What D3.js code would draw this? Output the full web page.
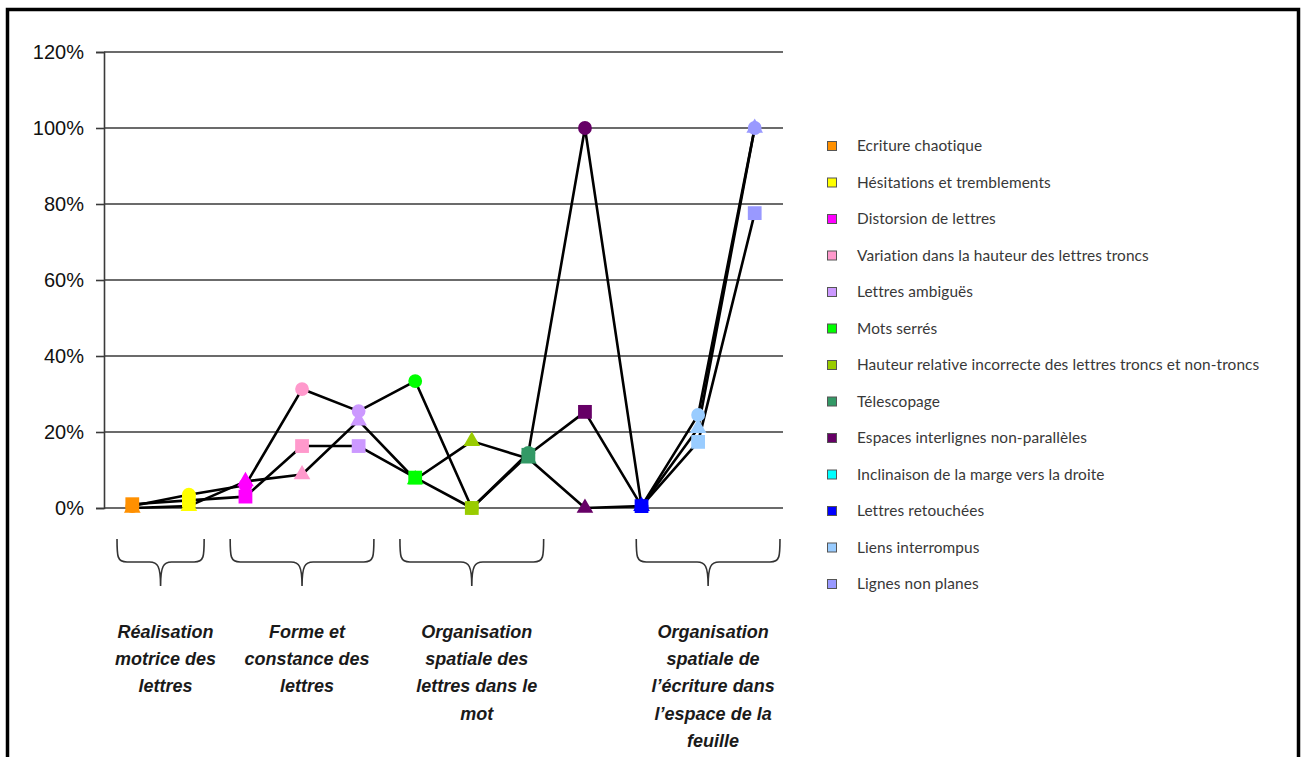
<!DOCTYPE html>
<html>
<head>
<meta charset="utf-8">
<script src="https://cdn.jsdelivr.net/npm/d3@7"></script>
<style>
  html, body { margin: 0; padding: 0; background: #fff; }
  svg { display: block; }
</style>
</head>
<body>
<svg id="chart" width="1302" height="757"></svg>
<script>
// Writing difficulties: share of pupils showing each sign, three groups (squares, triangles, circles)
const categories = [
  "Ecriture chaotique",
  "Hésitations et tremblements",
  "Distorsion de lettres",
  "Variation dans la hauteur des lettres troncs",
  "Lettres ambiguës",
  "Mots serrés",
  "Hauteur relative incorrecte des lettres troncs et non-troncs",
  "Télescopage",
  "Espaces interlignes non-parallèles",
  "Inclinaison de la marge vers la droite",
  "Lettres retouchées",
  "Liens interrompus",
  "Lignes non planes"
];
const categoryColors = [
  "#ff9000", "#ffff00", "#ff00ff", "#ff99cc", "#cc99ff", "#00ff00", "#99cc00",
  "#339966", "#660066", "#00ffff", "#0000ff", "#99ccff", "#9999ff"
];

// one value per category; null = not observed
const squareValues   = [0.010, 0.020, 0.030, 0.163, 0.163, 0.080, 0.000, 0.140, 0.253, null, 0.005, 0.174, 0.776];
const triangleValues = [0.000, 0.005, 0.070, 0.088, 0.230, 0.075, 0.176, 0.130, 0.000, null, 0.005, 0.210, 1.000];
const circleValues   = [0.005, 0.035, 0.060, 0.313, 0.255, 0.334, 0.000, 0.145, 1.000, null, 0.005, 0.245, 1.000];

const yTicks = [0, 0.2, 0.4, 0.6, 0.8, 1.0, 1.2];

// category groups shown under the axis (index of first and last category)
const groupNames = [
  ["Réalisation", "motrice des", "lettres"],
  ["Forme et", "constance des", "lettres"],
  ["Organisation", "spatiale des", "lettres dans le", "mot"],
  ["Organisation", "spatiale de", "l’écriture dans", "l’espace de la", "feuille"]
];
const groupFirst = [0, 2, 5, 10];
const groupLast  = [1, 4, 7, 12];

// layout: horizontal nudge of each brace, in pixels
const braceNudge = [0, 0, 0, 10];

const svg = d3.select("#chart");

// outer frame
svg.append("rect")
  .attr("x", 7.5).attr("y", 9.5)
  .attr("width", 1291).attr("height", 800)
  .attr("fill", "none").attr("stroke", "#000").attr("stroke-width", 3.5);

const plot = { left: 104, right: 783, top: 52, bottom: 508 };

const seriesList = [
  { shape: d3.symbolTriangle, size: 120, values: triangleValues },
  { shape: d3.symbolCircle,   size: 150, values: circleValues },
  { shape: d3.symbolSquare,   size: 190, values: squareValues }
];

// categories drawn on the x axis: those with at least one value
const plotted = categories.map((c, i) => i)
  .filter(i => seriesList.some(s => s.values[i] != null));

const x = d3.scalePoint()
  .domain(plotted.map(i => categories[i]))
  .range([plot.left, plot.right])
  .padding(0.5);

const y = d3.scaleLinear().domain([0, 1.2]).range([plot.bottom, plot.top]);

// gridlines
svg.append("g")
  .selectAll("line")
  .data(yTicks)
  .join("line")
  .attr("x1", plot.left).attr("x2", plot.right)
  .attr("y1", d => y(d)).attr("y2", d => y(d))
  .attr("stroke", "#3a3a3a").attr("stroke-width", 1.6);

// y axis
const yAxis = svg.append("g")
  .attr("transform", `translate(${plot.left},0)`)
  .attr("font-family", "Arial, 'Liberation Sans', sans-serif")
  .call(d3.axisLeft(y).tickValues(yTicks).tickFormat(d3.format(".0%")).tickSize(8).tickPadding(12));
yAxis.attr("font-family", "Arial, 'Liberation Sans', sans-serif").attr("font-size", 20);
yAxis.select(".domain").attr("stroke", "#3a3a3a").attr("stroke-width", 1.6);
yAxis.selectAll(".tick line").attr("stroke", "#3a3a3a").attr("stroke-width", 1.6);
yAxis.selectAll(".tick text")
  .style("font-family", "Arial, 'Liberation Sans', sans-serif")
  .style("font-size", "20px")
  .attr("fill", "#111");

// series lines
const line = d3.line()
  .defined(d => d.v != null)
  .x(d => x(categories[d.i]))
  .y(d => y(d.v));

seriesList.forEach(s => {
  const pts = plotted.map(i => ({ i, v: s.values[i] }));
  svg.append("path")
    .datum(pts)
    .attr("d", line)
    .attr("fill", "none")
    .attr("stroke", "#000")
    .attr("stroke-width", 2.6)
    .attr("stroke-linejoin", "round");
});

// markers, coloured by category
seriesList.forEach(s => {
  const pts = plotted.filter(i => s.values[i] != null).map(i => ({ i, v: s.values[i] }));
  svg.append("g")
    .selectAll("path")
    .data(pts)
    .join("path")
    .attr("transform", d => `translate(${x(categories[d.i])},${y(d.v)})`)
    .attr("d", d3.symbol(s.shape, s.size))
    .attr("fill", d => categoryColors[d.i]);
});

// legend
const legend = svg.append("g");
const legendTop = 146, legendStep = 36.5;
categories.forEach((c, i) => {
  const cy = legendTop + i * legendStep;
  legend.append("rect")
    .attr("x", 827.5).attr("y", cy - 4.5)
    .attr("width", 9).attr("height", 9)
    .attr("fill", categoryColors[i])
    .attr("stroke", "#555").attr("stroke-width", 1);
  legend.append("text")
    .attr("x", 857).attr("y", cy)
    .attr("dy", "0.35em")
    .style("font-family", "Lato, 'Open Sans', sans-serif")
    .style("font-size", "15.4px")
    .style("letter-spacing", "0.1px")
    .attr("fill", "#383838")
    .text(c);
});

// group braces and labels
const groups = svg.append("g");
const step = x.step();
groupNames.forEach((lines, g) => {
  const x0 = x(categories[groupFirst[g]]) - step * 0.27 + braceNudge[g];
  const x1 = x(categories[groupLast[g]]) + step * 0.27 + braceNudge[g];
  const xc = (x0 + x1) / 2;
  const top = 539, mid = 562, tip = 586;
  const p = d3.path();
  p.moveTo(x0, top);
  p.bezierCurveTo(x0, mid - 6, x0, mid, x0 + 10, mid);
  p.lineTo(xc - 11, mid);
  p.bezierCurveTo(xc - 3, mid, xc, mid + 4, xc, tip);
  p.bezierCurveTo(xc, mid + 4, xc + 3, mid, xc + 11, mid);
  p.lineTo(x1 - 10, mid);
  p.bezierCurveTo(x1, mid, x1, mid - 6, x1, top);
  groups.append("path")
    .attr("d", p.toString())
    .attr("fill", "none")
    .attr("stroke", "#333")
    .attr("stroke-width", 1.6);

  const t = groups.append("text")
    .attr("x", xc + 5)
    .attr("y", 638)
    .attr("text-anchor", "middle")
    .style("font-family", "Arial, 'Liberation Sans', sans-serif")
    .style("font-size", "18px")
    .style("font-weight", "bold")
    .style("font-style", "italic")
    .attr("fill", "#1a1a1a");
  lines.forEach((l, k) => {
    t.append("tspan").attr("x", xc + 5).attr("dy", k === 0 ? 0 : 27.2).text(l);
  });
});
</script>
</body>
</html>
